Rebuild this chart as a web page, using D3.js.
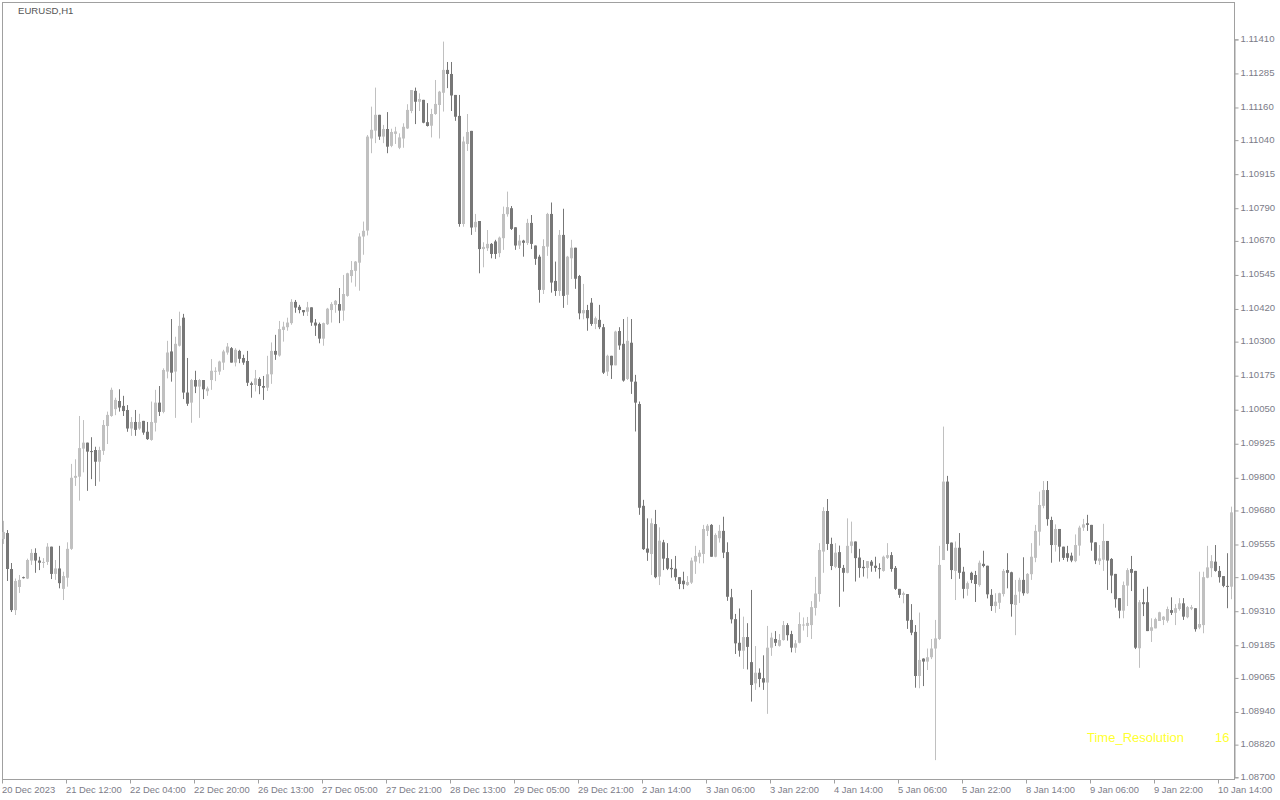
<!DOCTYPE html>
<html><head><meta charset="utf-8">
<script src="https://cdn.jsdelivr.net/npm/d3@7"></script>
<style>html,body{margin:0;padding:0;background:#fff;}svg{display:block;}</style>
</head><body>
<svg id="chart" width="1280" height="800"></svg>
<script>
const opens=[1.09575,1.09597,1.09465,1.09314,1.09399,1.09435,1.09430,1.09496,1.09524,1.09496,1.09488,1.09491,1.09547,1.09447,1.09467,1.09392,1.09433,1.09539,1.09800,1.09804,1.09907,1.09929,1.09898,1.09902,1.09859,1.09899,1.09990,1.10027,1.10052,1.10082,1.10064,1.10049,1.09981,1.10005,1.09981,1.10009,1.09969,1.09939,1.10002,1.10076,1.10042,1.10190,1.10264,1.10190,1.10285,1.10388,1.10113,1.10076,1.10159,1.10135,1.10159,1.10118,1.10159,1.10191,1.10190,1.10223,1.10260,1.10276,1.10223,1.10266,1.10240,1.10229,1.10147,1.10141,1.10163,1.10137,1.10131,1.10180,1.10266,1.10249,1.10343,1.10353,1.10368,1.10446,1.10428,1.10416,1.10410,1.10426,1.10370,1.10365,1.10311,1.10364,1.10416,1.10435,1.10438,1.10414,1.10468,1.10541,1.10560,1.10590,1.10686,1.10708,1.11046,1.11075,1.11133,1.11053,1.11081,1.11019,1.11063,1.11012,1.11046,1.11083,1.11147,1.11221,1.11181,1.11188,1.11106,1.11093,1.11136,1.11169,1.11214,1.11298,1.11283,1.11206,1.11129,1.10732,1.11026,1.11074,1.10720,1.10743,1.10640,1.10643,1.10659,1.10668,1.10625,1.10680,1.10768,1.10790,1.10720,1.10653,1.10671,1.10662,1.10736,1.10653,1.10612,1.10490,1.10649,1.10769,1.10523,1.10486,1.10692,1.10472,1.10606,1.10645,1.10541,1.10404,1.10416,1.10443,1.10365,1.10380,1.10353,1.10190,1.10248,1.10213,1.10339,1.10292,1.10163,1.10296,1.10153,1.10071,1.09697,1.09540,1.09520,1.09630,1.09437,1.09563,1.09505,1.09469,1.09466,1.09435,1.09422,1.09406,1.09415,1.09492,1.09510,1.09520,1.09605,1.09627,1.09510,1.09578,1.09605,1.09527,1.09361,1.09281,1.09194,1.09165,1.09215,1.09123,1.09045,1.09084,1.09064,1.09048,1.09176,1.09208,1.09183,1.09204,1.09259,1.09226,1.09176,1.09194,1.09259,1.09256,1.09259,1.09322,1.09373,1.09529,1.09678,1.09557,1.09473,1.09527,1.09469,1.09451,1.09550,1.09566,1.09507,1.09473,1.09469,1.09492,1.09477,1.09468,1.09458,1.09506,1.09516,1.09469,1.09392,1.09370,1.09373,1.09278,1.09234,1.09072,1.09136,1.09125,1.09141,1.09173,1.09208,1.09498,1.09786,1.09562,1.09458,1.09543,1.09455,1.09392,1.09451,1.09443,1.09406,1.09484,1.09477,1.09370,1.09329,1.09341,1.09373,1.09461,1.09453,1.09333,1.09382,1.09425,1.09376,1.09446,1.09506,1.09602,1.09697,1.09755,1.09645,1.09553,1.09612,1.09547,1.09523,1.09514,1.09494,1.09551,1.09617,1.09633,1.09627,1.09563,1.09494,1.09499,1.09568,1.09502,1.09447,1.09358,1.09312,1.09404,1.09465,1.09458,1.09174,1.09343,1.09343,1.09238,1.09247,1.09274,1.09278,1.09275,1.09314,1.09304,1.09318,1.09339,1.09288,1.09319,1.09321,1.09250,1.09259,1.09433,1.09468,1.09492,1.09458,1.09439,1.09403,1.09400];
const highs=[1.09642,1.09608,1.09487,1.09430,1.09443,1.09437,1.09503,1.09538,1.09541,1.09510,1.09505,1.09560,1.09547,1.09498,1.09550,1.09455,1.09563,1.09851,1.09868,1.10027,1.10012,1.09929,1.09949,1.09914,1.09914,1.10012,1.10043,1.10131,1.10094,1.10125,1.10101,1.10067,1.10023,1.10049,1.10035,1.10009,1.10005,1.10080,1.10123,1.10137,1.10202,1.10303,1.10383,1.10318,1.10410,1.10402,1.10240,1.10163,1.10193,1.10163,1.10159,1.10135,1.10236,1.10206,1.10230,1.10270,1.10295,1.10280,1.10276,1.10270,1.10252,1.10266,1.10153,1.10196,1.10169,1.10174,1.10248,1.10297,1.10325,1.10376,1.10373,1.10388,1.10456,1.10453,1.10435,1.10416,1.10446,1.10426,1.10383,1.10370,1.10370,1.10424,1.10445,1.10453,1.10497,1.10545,1.10553,1.10596,1.10596,1.10698,1.10741,1.11059,1.11163,1.11233,1.11133,1.11096,1.11143,1.11082,1.11089,1.11065,1.11102,1.11172,1.11224,1.11233,1.11212,1.11188,1.11176,1.11155,1.11261,1.11221,1.11402,1.11327,1.11327,1.11206,1.11206,1.11053,1.11136,1.11074,1.10769,1.10743,1.10665,1.10710,1.10662,1.10674,1.10686,1.10796,1.10851,1.10798,1.10720,1.10692,1.10674,1.10751,1.10765,1.10653,1.10619,1.10676,1.10773,1.10811,1.10594,1.10710,1.10788,1.10615,1.10674,1.10645,1.10545,1.10512,1.10435,1.10460,1.10392,1.10435,1.10365,1.10252,1.10248,1.10340,1.10353,1.10383,1.10391,1.10383,1.10178,1.10080,1.09719,1.09651,1.09651,1.09682,1.09618,1.09572,1.09560,1.09501,1.09513,1.09435,1.09455,1.09439,1.09507,1.09550,1.09535,1.09627,1.09630,1.09630,1.09596,1.09627,1.09657,1.09563,1.09392,1.09300,1.09320,1.09290,1.09266,1.09388,1.09182,1.09100,1.09148,1.09256,1.09231,1.09237,1.09226,1.09274,1.09266,1.09238,1.09204,1.09306,1.09287,1.09289,1.09347,1.09436,1.09560,1.09692,1.09722,1.09580,1.09560,1.09551,1.09480,1.09651,1.09639,1.09566,1.09539,1.09498,1.09494,1.09498,1.09510,1.09486,1.09514,1.09560,1.09527,1.09476,1.09392,1.09382,1.09373,1.09336,1.09259,1.09305,1.09137,1.09173,1.09208,1.09278,1.09550,1.09988,1.09807,1.09562,1.09566,1.09597,1.09473,1.09419,1.09455,1.09458,1.09496,1.09532,1.09477,1.09391,1.09376,1.09378,1.09465,1.09523,1.09455,1.09425,1.09433,1.09508,1.09450,1.09560,1.09627,1.09749,1.09788,1.09788,1.09657,1.09629,1.09612,1.09547,1.09550,1.09525,1.09592,1.09624,1.09649,1.09664,1.09627,1.09563,1.09553,1.09631,1.09568,1.09505,1.09447,1.09358,1.09419,1.09468,1.09513,1.09458,1.09351,1.09392,1.09400,1.09284,1.09286,1.09308,1.09292,1.09327,1.09361,1.09336,1.09358,1.09358,1.09329,1.09333,1.09321,1.09455,1.09455,1.09550,1.09516,1.09553,1.09476,1.09439,1.09523,1.09694];
const lows=[1.09557,1.09421,1.09307,1.09296,1.09377,1.09430,1.09428,1.09480,1.09451,1.09461,1.09469,1.09480,1.09428,1.09425,1.09394,1.09351,1.09400,1.09535,1.09770,1.09716,1.09820,1.09752,1.09795,1.09770,1.09786,1.09884,1.09924,1.10024,1.10030,1.10043,1.10027,1.09969,1.09954,1.09954,1.09976,1.09958,1.09939,1.09936,1.09970,1.10027,1.10037,1.10165,1.10153,1.10020,1.10282,1.10089,1.10064,1.10002,1.10111,1.10020,1.10089,1.10101,1.10123,1.10155,1.10178,1.10196,1.10252,1.10223,1.10209,1.10221,1.10215,1.10137,1.10094,1.10117,1.10107,1.10086,1.10119,1.10145,1.10233,1.10245,1.10300,1.10340,1.10362,1.10406,1.10404,1.10395,1.10394,1.10358,1.10321,1.10294,1.10285,1.10361,1.10370,1.10406,1.10368,1.10377,1.10465,1.10517,1.10502,1.10487,1.10619,1.10690,1.10992,1.11029,1.11041,1.11029,1.10992,1.11014,1.11026,1.11007,1.11012,1.11081,1.11139,1.11099,1.11147,1.11102,1.11090,1.11050,1.11133,1.11046,1.11145,1.11231,1.11147,1.11111,1.10722,1.10722,1.11000,1.10692,1.10703,1.10551,1.10573,1.10633,1.10606,1.10604,1.10610,1.10637,1.10759,1.10710,1.10637,1.10640,1.10612,1.10655,1.10640,1.10582,1.10443,1.10475,1.10615,1.10480,1.10468,1.10468,1.10424,1.10435,1.10530,1.10494,1.10382,1.10382,1.10340,1.10358,1.10346,1.10346,1.10181,1.10174,1.10163,1.10213,1.10270,1.10153,1.10159,1.10108,1.09970,1.09664,1.09535,1.09495,1.09443,1.09431,1.09406,1.09461,1.09461,1.09433,1.09422,1.09391,1.09391,1.09403,1.09410,1.09447,1.09486,1.09486,1.09586,1.09510,1.09508,1.09562,1.09505,1.09348,1.09265,1.09153,1.09143,1.09098,1.09096,1.08978,1.09021,1.09031,1.09021,1.08933,1.09146,1.09182,1.09180,1.09202,1.09202,1.09159,1.09157,1.09192,1.09239,1.09215,1.09208,1.09294,1.09345,1.09451,1.09535,1.09461,1.09468,1.09326,1.09382,1.09449,1.09523,1.09419,1.09433,1.09437,1.09430,1.09455,1.09455,1.09430,1.09455,1.09502,1.09455,1.09388,1.09359,1.09339,1.09245,1.09222,1.09029,1.09027,1.09035,1.09094,1.09134,1.08763,1.09204,1.09498,1.09532,1.09428,1.09351,1.09429,1.09357,1.09367,1.09413,1.09344,1.09400,1.09471,1.09357,1.09311,1.09304,1.09318,1.09364,1.09394,1.09290,1.09222,1.09340,1.09367,1.09373,1.09425,1.09490,1.09551,1.09688,1.09624,1.09488,1.09529,1.09492,1.09498,1.09492,1.09490,1.09490,1.09514,1.09605,1.09605,1.09532,1.09483,1.09480,1.09458,1.09388,1.09376,1.09323,1.09284,1.09284,1.09329,1.09384,1.09171,1.09102,1.09292,1.09237,1.09197,1.09247,1.09274,1.09259,1.09268,1.09296,1.09259,1.09312,1.09278,1.09284,1.09314,1.09235,1.09244,1.09229,1.09431,1.09435,1.09455,1.09415,1.09398,1.09321,1.09354];
const closes=[1.09601,1.09465,1.09314,1.09421,1.09425,1.09432,1.09498,1.09524,1.09496,1.09488,1.09491,1.09547,1.09447,1.09467,1.09413,1.09439,1.09539,1.09800,1.09807,1.09909,1.09929,1.09896,1.09896,1.09859,1.09902,1.09994,1.10031,1.10123,1.10086,1.10058,1.10045,1.09981,1.10005,1.09976,1.10005,1.09966,1.09942,1.10005,1.10076,1.10042,1.10196,1.10260,1.10186,1.10292,1.10358,1.10113,1.10072,1.10159,1.10135,1.10159,1.10125,1.10128,1.10193,1.10193,1.10227,1.10264,1.10282,1.10223,1.10270,1.10237,1.10223,1.10149,1.10141,1.10165,1.10137,1.10131,1.10180,1.10266,1.10252,1.10346,1.10355,1.10370,1.10446,1.10425,1.10416,1.10408,1.10426,1.10370,1.10359,1.10311,1.10368,1.10421,1.10438,1.10450,1.10414,1.10475,1.10551,1.10563,1.10594,1.10686,1.10707,1.11053,1.11078,1.11133,1.11053,1.11081,1.11016,1.11070,1.11072,1.11050,1.11089,1.11151,1.11224,1.11181,1.11191,1.11104,1.11092,1.11136,1.11173,1.11218,1.11298,1.11283,1.11204,1.11126,1.10732,1.11035,1.11070,1.10719,1.10740,1.10640,1.10648,1.10659,1.10622,1.10622,1.10682,1.10769,1.10794,1.10714,1.10653,1.10671,1.10663,1.10736,1.10659,1.10604,1.10490,1.10651,1.10769,1.10517,1.10486,1.10692,1.10468,1.10612,1.10645,1.10531,1.10404,1.10416,1.10386,1.10365,1.10386,1.10353,1.10186,1.10248,1.10213,1.10337,1.10286,1.10157,1.10303,1.10153,1.10076,1.09690,1.09538,1.09525,1.09633,1.09435,1.09569,1.09503,1.09466,1.09464,1.09435,1.09410,1.09409,1.09417,1.09496,1.09513,1.09525,1.09612,1.09624,1.09510,1.09590,1.09605,1.09525,1.09363,1.09280,1.09192,1.09165,1.09215,1.09179,1.09039,1.09084,1.09061,1.09048,1.09176,1.09213,1.09194,1.09204,1.09259,1.09222,1.09176,1.09192,1.09263,1.09261,1.09267,1.09325,1.09375,1.09535,1.09678,1.09557,1.09476,1.09525,1.09469,1.09451,1.09550,1.09566,1.09505,1.09469,1.09468,1.09494,1.09477,1.09469,1.09465,1.09510,1.09516,1.09465,1.09392,1.09370,1.09376,1.09275,1.09231,1.09072,1.09131,1.09125,1.09141,1.09173,1.09210,1.09480,1.09786,1.09557,1.09461,1.09543,1.09451,1.09392,1.09413,1.09425,1.09410,1.09488,1.09476,1.09372,1.09329,1.09345,1.09376,1.09458,1.09451,1.09336,1.09370,1.09425,1.09376,1.09447,1.09510,1.09605,1.09700,1.09755,1.09648,1.09553,1.09612,1.09547,1.09506,1.09506,1.09496,1.09553,1.09617,1.09629,1.09627,1.09562,1.09496,1.09504,1.09568,1.09496,1.09441,1.09354,1.09312,1.09406,1.09461,1.09451,1.09176,1.09343,1.09336,1.09237,1.09251,1.09281,1.09306,1.09290,1.09318,1.09304,1.09321,1.09339,1.09290,1.09325,1.09325,1.09244,1.09263,1.09435,1.09471,1.09494,1.09458,1.09435,1.09403,1.09400,1.09673];
const priceTicks=[1.11410,1.11285,1.11160,1.11040,1.10915,1.10790,1.10670,1.10545,1.10420,1.10300,1.10175,1.10050,1.09925,1.09800,1.09680,1.09555,1.09435,1.09310,1.09185,1.09065,1.08940,1.08820,1.08700];
const timeLabels=["20 Dec 2023","21 Dec 12:00","22 Dec 04:00","22 Dec 20:00","26 Dec 13:00","27 Dec 05:00","27 Dec 21:00","28 Dec 13:00","29 Dec 05:00","29 Dec 21:00","2 Jan 14:00","3 Jan 06:00","3 Jan 22:00","4 Jan 14:00","5 Jan 06:00","5 Jan 22:00","8 Jan 14:00","9 Jan 06:00","9 Jan 22:00","10 Jan 14:00"];
const timeLabelBars=[0,16,32,48,64,80,96,112,128,144,160,176,192,208,224,240,256,272,288,304];
const symbolTitle="EURUSD,H1";
const indicatorName="Time_Resolution";
const indicatorValue="16";

const svg=d3.select("#chart");
const L=2,R=1234,T=2,B=779;
const font="'Liberation Sans', Arial, sans-serif";
const n=closes.length;
const x=d3.scaleLinear().domain([0,n-1]).range([3.3,1231.3]);
const y=d3.scaleLinear().domain([1.08700,1.11410]).range([777.3,39.4]);
const upCol="#c0c0c0", dnCol="#777777", axisCol="#a0a0a0", txtCol="#7c7c88";

svg.append("rect").attr("x",L+0.5).attr("y",T+0.5).attr("width",R-L).attr("height",B-T)
  .attr("fill","none").attr("stroke",axisCol).attr("stroke-width",1);

const bars=d3.range(n).map(i=>({i,o:opens[i],h:highs[i],l:lows[i],c:closes[i]}));
const g=svg.append("g");
g.selectAll("line.wick").data(bars).join("line").attr("class","wick")
  .attr("x1",d=>Math.round(x(d.i))+0.5).attr("x2",d=>Math.round(x(d.i))+0.5)
  .attr("y1",d=>y(d.h)).attr("y2",d=>y(d.l))
  .attr("stroke",d=>d.c>=d.o?upCol:dnCol).attr("stroke-width",1);
g.selectAll("rect.body").data(bars).join("rect").attr("class","body")
  .attr("x",d=>Math.round(x(d.i))-1).attr("width",3)
  .attr("y",d=>y(Math.max(d.o,d.c)))
  .attr("height",d=>Math.max(1,Math.abs(y(d.o)-y(d.c))))
  .attr("fill",d=>d.c>=d.o?upCol:dnCol);

const yAxis=d3.axisRight(y).tickValues(priceTicks).tickSize(4).tickPadding(2).tickFormat(d3.format(".5f"));
const ya=svg.append("g").attr("transform",`translate(${R+0.5},0)`).call(yAxis);
ya.select(".domain").attr("stroke",axisCol);
ya.selectAll(".tick line").attr("stroke",axisCol);
ya.selectAll(".tick text").attr("fill",txtCol).attr("font-family",font).attr("font-size",9.6).attr("dy","0.2em");

const xa=svg.append("g").attr("transform",`translate(0,${B+0.5})`);
xa.selectAll("line").data(timeLabelBars).join("line")
  .attr("x1",d=>Math.round(x(d))-0.5).attr("x2",d=>Math.round(x(d))-0.5).attr("y1",0).attr("y2",4).attr("stroke",axisCol);
xa.selectAll("text").data(timeLabels).join("text")
  .attr("x",(d,k)=>Math.round(x(timeLabelBars[k]))-1).attr("y",13.5)
  .attr("fill",txtCol).attr("font-family",font).attr("font-size",9.4).text(d=>d);

svg.append("text").attr("x",18).attr("y",14).attr("fill","#555").attr("font-family",font).attr("font-size",9.6).text(symbolTitle);
svg.append("text").attr("x",1087).attr("y",742).attr("fill","#ffff30").attr("font-family",font).attr("font-size",13).text(indicatorName);
svg.append("text").attr("x",1215).attr("y",742).attr("fill","#ffff30").attr("font-family",font).attr("font-size",13).text(indicatorValue);
</script>
</body></html>
